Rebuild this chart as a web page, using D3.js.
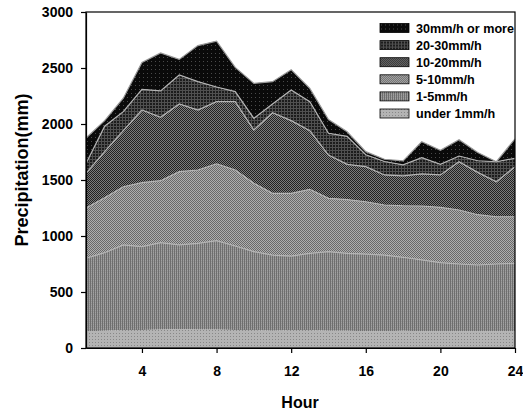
<!DOCTYPE html>
<html>
<head>
<meta charset="utf-8">
<script src="https://cdn.jsdelivr.net/npm/d3@7/dist/d3.min.js"></script>
<style>
  body { margin: 0; background: #fff; }
  text { font-family: "Liberation Sans", Arial, sans-serif; font-weight: bold; fill: #000; }
</style>
</head>
<body>
<script>
// hourly precipitation by intensity class (mm)
var hours = [1, 2, 3, 4, 5, 6, 7, 8, 9, 10, 11, 12, 13, 14, 15, 16, 17, 18, 19, 20, 21, 22, 23, 24];
var under1 = [150, 155, 160, 160, 165, 170, 165, 165, 160, 160, 155, 160, 160, 155, 155, 150, 150, 155, 150, 150, 150, 150, 150, 150];
var mm1to5 = [651, 696, 760, 745, 775, 750, 770, 793, 751, 700, 675, 661, 685, 705, 690, 689, 680, 655, 636, 612, 600, 591, 600, 606];
var mm5to10 = [449, 491, 520, 571, 554, 654, 654, 687, 678, 610, 551, 560, 572, 476, 480, 467, 447, 460, 482, 494, 482, 449, 422, 416];
var mm10to20 = [310, 411, 500, 649, 566, 605, 536, 555, 610, 476, 720, 649, 523, 387, 315, 313, 268, 266, 286, 289, 431, 378, 313, 447];
var mm20to30 = [88, 227, 170, 185, 235, 258, 253, 130, 90, 105, 78, 274, 259, 194, 250, 106, 120, 99, 146, 95, 51, 104, 178, 75];
var mm30up = [227, 50, 120, 240, 340, 140, 322, 410, 216, 312, 199, 181, 119, 123, 41, 28, 20, 35, 142, 125, 146, 73, 0, 174];

var keys = ["under1", "mm1to5", "mm5to10", "mm10to20", "mm20to30", "mm30up"];
var labels = ["under 1mm/h", "1-5mm/h", "5-10mm/h", "10-20mm/h", "20-30mm/h", "30mm/h or more"];
var series = [under1, mm1to5, mm5to10, mm10to20, mm20to30, mm30up];
var yTicks = [0, 500, 1000, 1500, 2000, 2500, 3000];
var xTicks = [4, 8, 12, 16, 20, 24];

var margin = { top: 12, right: 8, bottom: 66, left: 86 },
    width = 523 - margin.left - margin.right,
    height = 414 - margin.top - margin.bottom;

var root = d3.select("body").append("svg")
    .attr("width", 523)
    .attr("height", 414);

// fill patterns (grey-scale hatchings of the original)
var defs = root.append("defs");
function pattern(id, w, h, bg, cells) {
    var p = defs.append("pattern")
        .attr("id", id)
        .attr("patternUnits", "userSpaceOnUse")
        .attr("width", w).attr("height", h);
    p.append("rect").attr("width", w).attr("height", h).attr("fill", bg);
    cells.forEach(function (c) {
        p.append("rect").attr("x", c[0]).attr("y", c[1])
            .attr("width", c[2]).attr("height", c[3]).attr("fill", c[4]);
    });
}
pattern("p0", 3, 3, "#b4b4b4", [[0, 0, 1, 1, "#888"]]);
pattern("p1", 2, 2, "#a2a2a2", [[0, 0, 1, 2, "#6e6e6e"], [1, 1, 1, 1, "#949494"]]);
pattern("p2", 2, 2, "#afafaf", [[0, 0, 1, 1, "#696969"], [1, 1, 1, 1, "#696969"]]);
pattern("p3", 2, 2, "#7c7c7c", [[0, 0, 1, 1, "#222"], [1, 1, 1, 1, "#222"]]);
pattern("p4", 3, 3, "#1c1c1c", [[0, 0, 3, 1, "#505050"], [0, 0, 1, 3, "#505050"]]);
pattern("p5", 4, 4, "#0a0a0a", [[1, 1, 1, 1, "#4a4a4a"]]);

var svg = root.append("g")
    .attr("transform", "translate(" + margin.left + "," + margin.top + ")");

var xScale = d3.scaleLinear().domain([1, 24]).range([0, width]);
var yScale = d3.scaleLinear().domain([0, 3000]).range([height, 0]);

var table = hours.map(function (h, i) {
    var row = { hour: h };
    keys.forEach(function (k, j) { row[k] = series[j][i]; });
    return row;
});

var stacked = d3.stack().keys(keys)(table);

var area = d3.area()
    .x(function (d) { return xScale(d.data.hour); })
    .y0(function (d) { return yScale(d[0]); })
    .y1(function (d) { return yScale(d[1]); });

var topLine = d3.line()
    .x(function (d) { return xScale(d.data.hour); })
    .y(function (d) { return yScale(d[1]); });

svg.append("g").selectAll("path")
    .data(stacked)
    .enter().append("path")
    .attr("d", area)
    .attr("fill", function (d, i) { return "url(#p" + i + ")"; });

// light boundary lines between the layers
svg.append("g").selectAll("path")
    .data(stacked.slice(1))
    .enter().append("path")
    .attr("d", topLine)
    .attr("fill", "none")
    .attr("stroke", function (d, i) { return i == 4 ? "#999" : "#b4b4b4"; })
    .attr("stroke-width", 1.2);

// frame
svg.append("rect")
    .attr("width", width)
    .attr("height", height)
    .attr("fill", "none")
    .attr("stroke", "#000")
    .attr("stroke-width", 1.2);

var xAxis = d3.axisBottom(xScale).tickValues(xTicks).tickSize(5).tickSizeOuter(0).tickPadding(13);
var yAxis = d3.axisLeft(yScale).tickValues(yTicks).tickFormat(d3.format("d"))
    .tickSize(5).tickSizeOuter(0).tickPadding(8);

svg.append("g")
    .attr("transform", "translate(0," + height + ")")
    .call(xAxis)
    .call(function (g) {
        g.selectAll("line, path").attr("stroke-width", 1.2);
        g.selectAll("text").attr("font-size", 14).style("font-family", "'Liberation Sans', Arial, sans-serif");
    });

svg.append("g")
    .call(yAxis)
    .call(function (g) {
        g.selectAll("line, path").attr("stroke-width", 1.2);
        g.selectAll("text").attr("font-size", 14).style("font-family", "'Liberation Sans', Arial, sans-serif");
    });

root.append("text")
    .attr("transform", "translate(28,170) rotate(-90)")
    .attr("text-anchor", "middle")
    .attr("font-size", 18)
    .text("Precipitation(mm)");

root.append("text")
    .attr("x", 300)
    .attr("y", 408)
    .attr("text-anchor", "middle")
    .attr("font-size", 16)
    .text("Hour");

// legend, top entry first
var legend = root.append("g").selectAll("g")
    .data(labels.map(function (l, i) { return { label: l, i: i }; }).reverse())
    .enter().append("g")
    .attr("transform", function (d, k) { return "translate(380," + (23.5 + k * 17.1) + ")"; });

legend.append("rect")
    .attr("width", 29)
    .attr("height", 9)
    .attr("fill", function (d) { return "url(#p" + d.i + ")"; })
    .attr("stroke", "#000")
    .attr("stroke-width", 0.8);

legend.append("text")
    .attr("x", 36)
    .attr("y", 9)
    .attr("font-size", 12.6)
    .text(function (d) { return d.label; });
</script>
</body>
</html>
